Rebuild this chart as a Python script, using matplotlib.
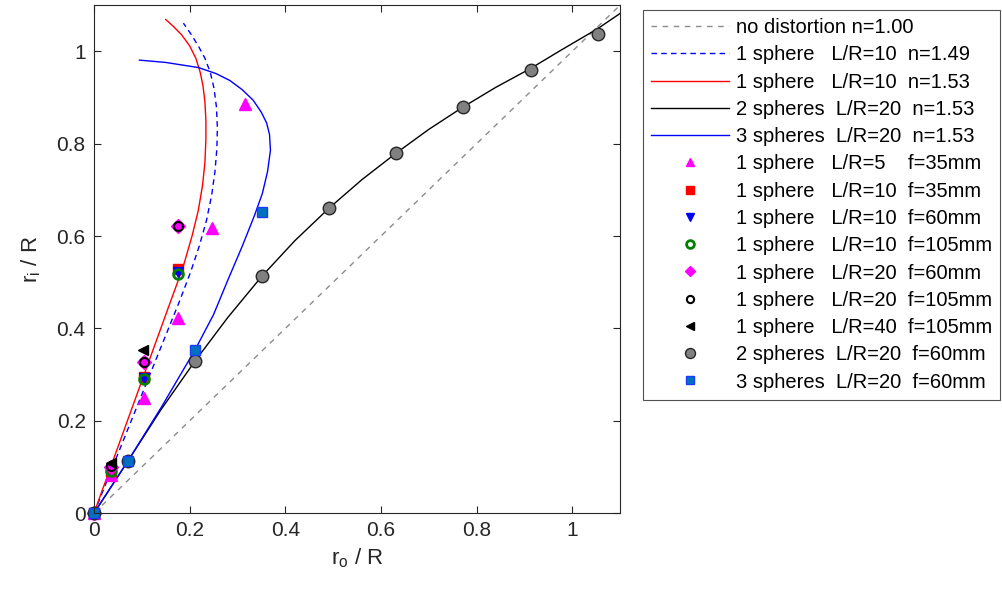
"""Distortion of the image radius through spheres: model curves and measurements."""

import matplotlib
matplotlib.use("Agg")
import matplotlib.pyplot as plt

plt.rcParams["font.family"] = ["Liberation Sans", "DejaVu Sans"]
plt.rcParams["mathtext.fontset"] = "custom"
plt.rcParams["mathtext.rm"] = "Liberation Sans"
plt.rcParams["mathtext.it"] = "Liberation Sans"

# model curves (r_o / R, r_i / R)
ident_x = [0, 1.1]
ident_y = [0, 1.1]

s1_149_x = [0, 0.180, 0.202, 0.220, 0.235, 0.246, 0.253, 0.257, 0.258, 0.256,
            0.251, 0.243, 0.232, 0.218, 0.203, 0.187]
s1_149_y = [0, 0.462, 0.522, 0.578, 0.633, 0.688, 0.740, 0.790, 0.835, 0.880,
            0.920, 0.955, 0.985, 1.012, 1.037, 1.061]

s1_153_x = [0, 0.161, 0.186, 0.205, 0.218, 0.227, 0.232, 0.234, 0.234, 0.232,
            0.228, 0.222, 0.213, 0.200, 0.183, 0.166, 0.150]
s1_153_y = [0, 0.461, 0.532, 0.600, 0.655, 0.710, 0.760, 0.810, 0.850, 0.890,
            0.925, 0.955, 0.985, 1.012, 1.036, 1.054, 1.069]

s2_153_x = [0, 0.071, 0.140, 0.211, 0.280, 0.351, 0.420, 0.491, 0.560, 0.631,
            0.700, 0.771, 0.840, 0.913, 0.974, 1.053, 1.100]
s2_153_y = [0, 0.113, 0.224, 0.329, 0.424, 0.513, 0.590, 0.660, 0.722, 0.779,
            0.831, 0.879, 0.922, 0.963, 1.001, 1.049, 1.082]

s3_153_x = [0, 0.071, 0.140, 0.211, 0.250, 0.280, 0.310, 0.335, 0.352, 0.363,
            0.369, 0.367, 0.361, 0.350, 0.333, 0.310, 0.284, 0.255, 0.218,
            0.150, 0.095]
s3_153_y = [0, 0.113, 0.228, 0.353, 0.430, 0.505, 0.578, 0.643, 0.692, 0.740,
            0.786, 0.820, 0.845, 0.868, 0.894, 0.917, 0.937, 0.952, 0.965,
            0.976, 0.981]

# measurements
m_lr5_f35_x = [0, 0.036, 0.105, 0.176, 0.247, 0.316]
m_lr5_f35_y = [0, 0.083, 0.249, 0.422, 0.617, 0.887]

m_lr10_f35_x = [0, 0.036, 0.105, 0.176]
m_lr10_f35_y = [0, 0.092, 0.295, 0.528]

m_lr10_f60_x = [0, 0.036, 0.105, 0.176]
m_lr10_f60_y = [0, 0.095, 0.293, 0.523]

m_lr10_f105_x = [0, 0.036, 0.105, 0.176]
m_lr10_f105_y = [0, 0.092, 0.290, 0.517]

m_lr20_f60_x = [0, 0.036, 0.105, 0.176]
m_lr20_f60_y = [0, 0.100, 0.328, 0.621]

m_lr20_f105_x = [0, 0.036, 0.105, 0.176]
m_lr20_f105_y = [0, 0.102, 0.328, 0.621]

m_lr40_f105_x = [0, 0.036, 0.103]
m_lr40_f105_y = [0, 0.109, 0.353]

m_2sph_x = [0, 0.071, 0.211, 0.351, 0.491, 0.631, 0.771, 0.913, 1.053]
m_2sph_y = [0, 0.113, 0.329, 0.513, 0.660, 0.779, 0.879, 0.959, 1.037]

m_3sph_x = [0, 0.071, 0.211, 0.351]
m_3sph_y = [0, 0.113, 0.353, 0.652]

ticks = [0, 0.2, 0.4, 0.6, 0.8, 1]
tick_labels = ["0", "0.2", "0.4", "0.6", "0.8", "1"]

fig = plt.figure(figsize=(10.02, 5.96), dpi=100)
ax = fig.add_axes([0.0938, 0.139, 0.525, 0.8523])

lw = 1.0
ax.plot(ident_x, ident_y, ls=(0, (4, 4)), color="0.55", lw=lw,
        label="no distortion n=1.00")
ax.plot(s1_149_x, s1_149_y, ls=(0, (4, 3)), color="#0000ff", lw=lw,
        label="1 sphere   L/R=10  n=1.49")
ax.plot(s1_153_x, s1_153_y, color="#ff0000", lw=lw,
        label="1 sphere   L/R=10  n=1.53")
ax.plot(s2_153_x, s2_153_y, color="black", lw=lw,
        label="2 spheres  L/R=20  n=1.53")
ax.plot(s3_153_x, s3_153_y, color="#0000ff", lw=lw,
        label="3 spheres  L/R=20  n=1.53")

mk = dict(ls="none", clip_on=False)
ax.plot(m_lr5_f35_x, m_lr5_f35_y, marker="^", ms=8, color="#ff00ff",
        mec="#ff00ff", label="1 sphere   L/R=5    f=35mm", **mk)
ax.plot(m_lr10_f35_x, m_lr10_f35_y, marker="s", ms=7, color="#ff0000",
        mec="#ff0000", label="1 sphere   L/R=10  f=35mm", **mk)
ax.plot(m_lr10_f60_x, m_lr10_f60_y, marker="v", ms=7, color="#0000ff",
        mec="#0000ff", label="1 sphere   L/R=10  f=60mm", **mk)
ax.plot(m_lr10_f105_x, m_lr10_f105_y, marker="o", ms=7, mfc="none",
        mec="#008000", mew=2, label="1 sphere   L/R=10  f=105mm", **mk)
ax.plot(m_lr20_f60_x, m_lr20_f60_y, marker="D", ms=7, color="#ff00ff",
        mec="#ff00ff", label="1 sphere   L/R=20  f=60mm", **mk)
ax.plot(m_lr20_f105_x, m_lr20_f105_y, marker="o", ms=6.5, mfc="none",
        mec="black", mew=1.5, label="1 sphere   L/R=20  f=105mm", **mk)
ax.plot(m_lr40_f105_x, m_lr40_f105_y, marker="<", ms=7, color="black",
        mec="black", label="1 sphere   L/R=40  f=105mm", **mk)
ax.plot(m_2sph_x, m_2sph_y, marker="o", ms=9, mfc="#808080", mec="#262626",
        mew=1.0, label="2 spheres  L/R=20  f=60mm", **mk)
ax.plot(m_3sph_x, m_3sph_y, marker="s", ms=7, mfc="#0072bd", mec="#1a3cff",
        mew=1.0, label="3 spheres  L/R=20  f=60mm", **mk)

ax.set_xlim(0, 1.1)
ax.set_ylim(0, 1.1)
ax.set_xticks(ticks)
ax.set_xticklabels(tick_labels)
ax.set_yticks(ticks)
ax.set_yticklabels(tick_labels)
ax.tick_params(direction="in", length=5, width=0.8, top=True, right=True,
               labelsize=15, colors="#262626", pad=6)
for sp in ax.spines.values():
    sp.set_color("#262626")
    sp.set_linewidth(0.8)

ax.set_xlabel(r"r$_{\rm o}$ / R", fontsize=16, color="#262626", labelpad=4)
ax.set_ylabel(r"r$_{\rm i}$ / R", fontsize=16, color="#262626", labelpad=10)

leg = fig.legend(loc="upper left", bbox_to_anchor=(0.6417, 0.983),
                 borderaxespad=0, fontsize=14.5, frameon=True, fancybox=False,
                 handlelength=3.85, handletextpad=0.35, labelspacing=0.41,
                 borderpad=0.4, markerscale=0.8)
leg.get_frame().set_edgecolor("#262626")
leg.get_frame().set_linewidth(0.8)

fig.savefig("out.png", dpi=100)
